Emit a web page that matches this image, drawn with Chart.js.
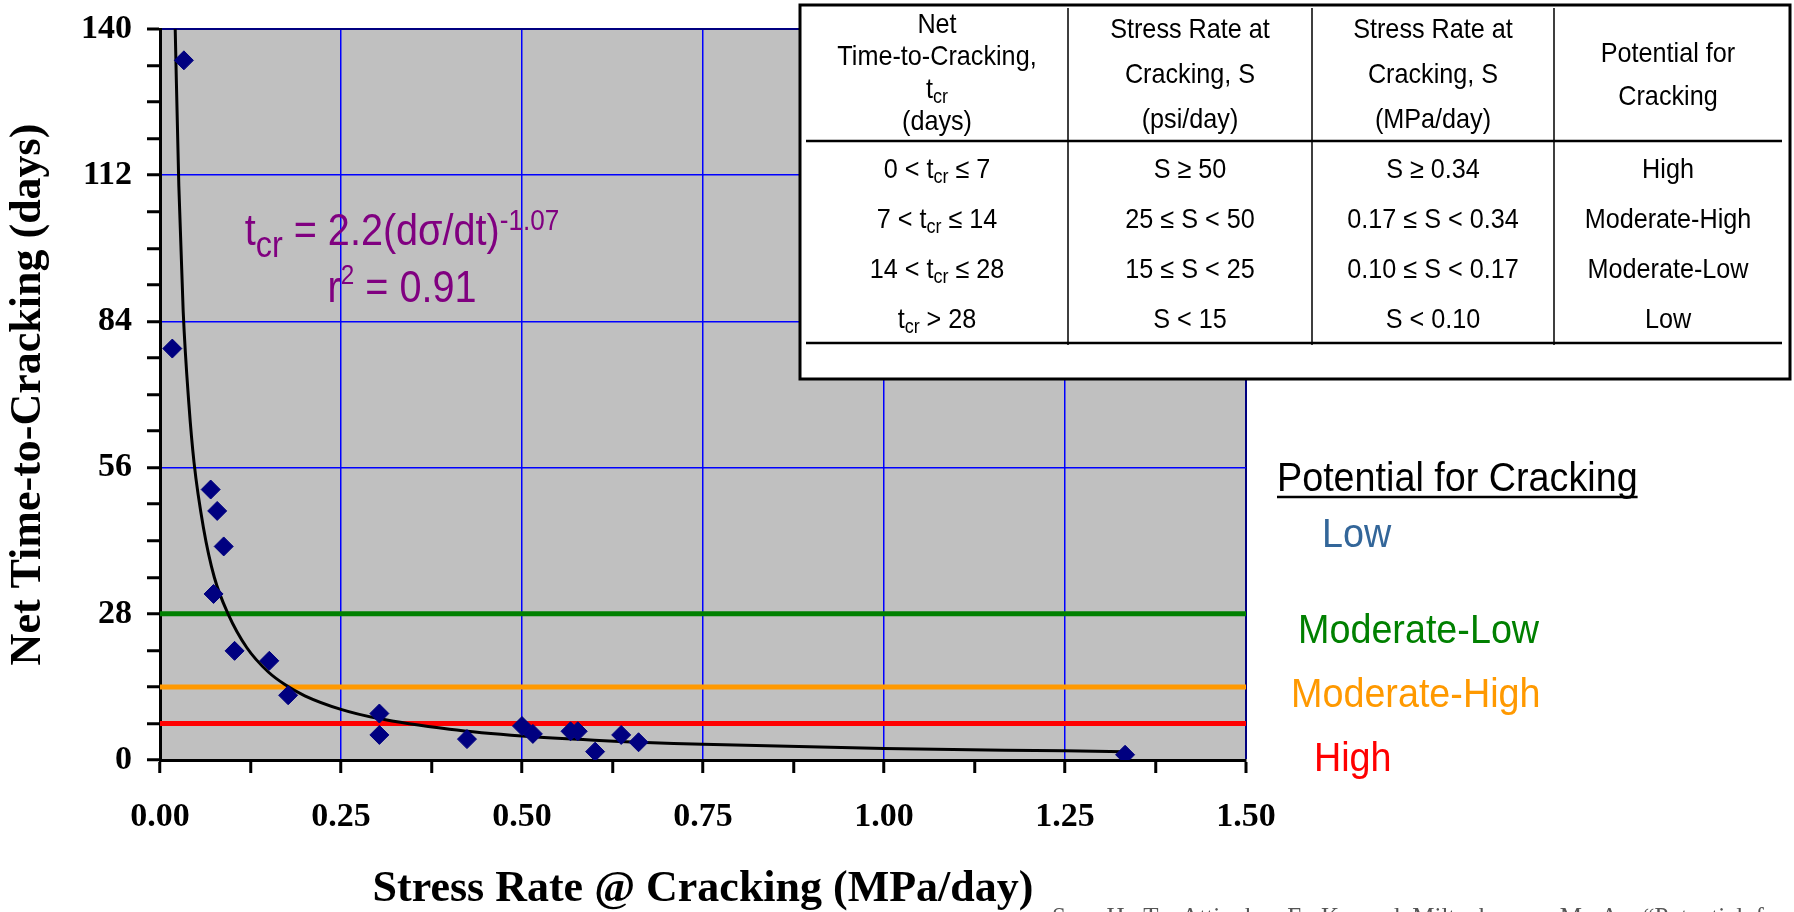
<!DOCTYPE html>
<html>
<head>
<meta charset="utf-8">
<script src="https://cdn.jsdelivr.net/npm/chart.js@4.4.0/dist/chart.umd.min.js"></script>
<style>
  html, body { margin: 0; padding: 0; background: #fff; }
  canvas { display: block; }
</style>
</head>
<body>
<canvas id="chart" width="1794" height="912"></canvas>
<script>
/* DATA */
const stressRate = [0.017, 0.033, 0.070, 0.079, 0.088, 0.074, 0.103, 0.151, 0.177, 0.303,
  0.303, 0.424, 0.500, 0.515, 0.567, 0.577, 0.601, 0.637, 0.661, 1.333];
const crackDays = [78.8, 134, 51.8, 47.7, 40.9, 31.8, 20.9, 19.0, 12.4, 8.9,
  4.8, 4.0, 6.5, 5.0, 5.5, 5.5, 1.6, 4.8, 3.4, 1.0];

// power trend line
const fitX = [0.021, 0.026, 0.032, 0.040, 0.047, 0.060, 0.075, 0.094, 0.120, 0.150, 0.173,
  0.200, 0.250, 0.300, 0.400, 0.500, 0.600, 0.750, 1.000, 1.250, 1.333];
const fitY = [140, 110, 86, 68, 57, 44.5, 35, 28, 21.5, 16.8, 14.4,
  12.3, 9.7, 8.0, 5.9, 4.6, 3.8, 3.0, 2.2, 1.75, 1.6];

const thresholdDays = [28, 14, 7];
const thresholdColors = ["#008000", "#FF9900", "#FF0000"];

const xTitle = "Stress Rate @ Cracking (MPa/day)";
const yTitle = "Net Time-to-Cracking (days)";

const legendTitle = "Potential for Cracking";
const legendLabels = ["Low", "Moderate-Low", "Moderate-High", "High"];
const legendColors = ["#336699", "#008000", "#FF9900", "#FF0000"];

const tableHead = [
  ["Net", "Time-to-Cracking,", "t_cr", "(days)"],
  ["Stress Rate at", "Cracking, S", "(psi/day)"],
  ["Stress Rate at", "Cracking, S", "(MPa/day)"],
  ["Potential for", "Cracking"]
];
const tcrRanges = ["0 < t_cr \u2264 7", "7 < t_cr \u2264 14", "14 < t_cr \u2264 28", "t_cr > 28"];
const psiRanges = ["S \u2265 50", "25 \u2264 S < 50", "15 \u2264 S < 25", "S < 15"];
const mpaRanges = ["S \u2265 0.34", "0.17 \u2264 S < 0.34", "0.10 \u2264 S < 0.17", "S < 0.10"];
const potentials = ["High", "Moderate-High", "Moderate-Low", "Low"];

const footNote = "See, H. T., Attiogbe, E. K., and Miltenberger, M. A., \u201cPotential for Cracking";

/* helpers */
const SANS = "'Liberation Sans', Arial, sans-serif";
const SERIF = "'Liberation Serif', 'Times New Roman', serif";
const serifBold = size => ({ family: SERIF, size: size, weight: "bold" });

function isMajor(v, step) {
  return Math.abs(v / step - Math.round(v / step)) < 1e-6;
}

// parts: [{t, size, dy}] drawn with horizontal squeeze sx
function richText(ctx, parts, x, y, align, color, sx) {
  ctx.save();
  ctx.fillStyle = color;
  ctx.textBaseline = "alphabetic";
  ctx.textAlign = "left";
  let total = 0;
  const widths = parts.map(p => {
    ctx.font = p.size + "px " + SANS;
    const w = ctx.measureText(p.t).width * sx;
    total += w;
    return w;
  });
  let cx = align === "center" ? x - total / 2 : (align === "right" ? x - total : x);
  parts.forEach((p, i) => {
    ctx.font = p.size + "px " + SANS;
    ctx.save();
    ctx.translate(cx, y + (p.dy || 0));
    ctx.scale(sx, 1);
    ctx.fillText(p.t, 0, 0);
    ctx.restore();
    cx += widths[i];
  });
  ctx.restore();
  return total;
}

// "t_cr" -> t with subscript cr
function cellParts(s, size) {
  const segs = s.split("_cr");
  const parts = [];
  segs.forEach((seg, i) => {
    if (seg) parts.push({ t: seg, size: size });
    if (i < segs.length - 1) parts.push({ t: "cr", size: Math.round(size * 0.72), dy: 5 });
  });
  return parts;
}

const decor = {
  id: "decor",
  beforeDraw(chart) {
    const { ctx, chartArea: a } = chart;
    ctx.save();
    ctx.fillStyle = "#fff";
    ctx.fillRect(0, 0, chart.width, chart.height);
    ctx.fillStyle = "#C0C0C0";
    ctx.fillRect(a.left, a.top, a.right - a.left, a.bottom - a.top);
    ctx.restore();
  },
  afterDraw(chart) {
    const ctx = chart.ctx;
    const sx = 0.9;

    // equation
    richText(ctx, [
      { t: "t", size: 44 },
      { t: "cr", size: 36, dy: 12 },
      { t: " = 2.2(d\u03c3/dt)", size: 44 },
      { t: "-1.07", size: 29, dy: -15 }
    ], 402, 245, "center", "#800080", sx);
    richText(ctx, [
      { t: "r", size: 44 },
      { t: "2", size: 27, dy: -18 },
      { t: " = 0.91", size: 44 }
    ], 402, 302, "center", "#800080", sx);

    // table
    const tl = 800, tt = 5, tr = 1790, tb = 379;
    const colX = [806, 1068, 1312, 1554, 1782];
    ctx.save();
    ctx.fillStyle = "#fff";
    ctx.fillRect(tl, tt, tr - tl, tb - tt);
    ctx.strokeStyle = "#000";
    ctx.lineWidth = 3;
    ctx.strokeRect(tl, tt, tr - tl, tb - tt);
    ctx.lineWidth = 2.5;
    ctx.beginPath();
    ctx.moveTo(colX[0], 141); ctx.lineTo(colX[4], 141);
    ctx.moveTo(colX[0], 343); ctx.lineTo(colX[4], 343);
    ctx.stroke();
    ctx.lineWidth = 1.5;
    ctx.beginPath();
    for (let i = 1; i < 4; i++) {
      ctx.moveTo(colX[i], 8); ctx.lineTo(colX[i], 345);
    }
    ctx.stroke();
    ctx.restore();

    const headBase = [[33, 65, 98, 130], [38, 83, 128], [38, 83, 128], [62, 105]];
    tableHead.forEach((lines, c) => {
      const cx = (colX[c] + colX[c + 1]) / 2;
      lines.forEach((ln, k) => {
        richText(ctx, cellParts(ln, 28), cx, headBase[c][k], "center", "#000", sx);
      });
    });
    const rowBase = [178, 228, 278, 328];
    const cols = [tcrRanges, psiRanges, mpaRanges, potentials];
    cols.forEach((col, c) => {
      const cx = (colX[c] + colX[c + 1]) / 2;
      col.forEach((txt, r) => {
        richText(ctx, cellParts(txt, 28), cx, rowBase[r], "center", "#000", sx);
      });
    });

    // legend for the potential lines
    const w = richText(ctx, [{ t: legendTitle, size: 41 }], 1277, 491, "left", "#000", 0.92);
    ctx.save();
    ctx.strokeStyle = "#000";
    ctx.lineWidth = 2.5;
    ctx.beginPath();
    ctx.moveTo(1277, 497); ctx.lineTo(1277 + w, 497);
    ctx.stroke();
    ctx.restore();
    const lx = [1322, 1298, 1291, 1314];
    const ly = [547, 643, 707, 771];
    legendLabels.forEach((lab, i) => {
      richText(ctx, [{ t: lab, size: 41 }], lx[i], ly[i], "left", legendColors[i], 0.92);
    });

    // clipped citation at the bottom edge
    ctx.save();
    ctx.fillStyle = "#555";
    ctx.font = "25px " + SERIF;
    ctx.wordSpacing = "6px";
    ctx.textBaseline = "alphabetic";
    ctx.fillText(footNote, 1052, 925);
    ctx.restore();
  }
};

const scatterPoints = stressRate.map((x, i) => ({ x: x, y: crackDays[i] }));
const fitPoints = fitX.map((x, i) => ({ x: x, y: fitY[i] }));
const thresholdSets = thresholdDays.map((d, i) => ({
  label: "t = " + d,
  data: [{ x: 0, y: d }, { x: 1.5, y: d }],
  showLine: true,
  borderColor: thresholdColors[i],
  borderWidth: 5,
  pointRadius: 0,
  clip: false
}));

new Chart(document.getElementById("chart"), {
  type: "scatter",
  data: {
    datasets: [{
      label: "Measured",
      data: scatterPoints,
      pointStyle: "rectRot",
      pointRadius: 9.5,
      backgroundColor: "#000080",
      borderColor: "#000080",
      borderWidth: 1
    }, {
      label: "Power fit",
      data: fitPoints,
      showLine: true,
      borderColor: "#000",
      borderWidth: 3,
      pointRadius: 0,
      cubicInterpolationMode: "monotone"
    }, ...thresholdSets]
  },
  options: {
    responsive: false,
    animation: false,
    devicePixelRatio: 1,
    layout: {
      padding: { top: 29, right: 548, left: 0, bottom: 0 }
    },
    scales: {
      x: {
        type: "linear",
        min: 0,
        max: 1.5,
        ticks: {
          stepSize: 0.125,
          autoSkip: false,
          maxRotation: 0,
          padding: 24,
          color: "#000",
          font: serifBold(34),
          callback: v => isMajor(v, 0.25) ? v.toFixed(2) : ""
        },
        grid: {
          color: c => c.tick && isMajor(c.tick.value, 0.25) ? (c.tick.value >= 1.5 ? "#000080" : "#0000FF") : "rgba(0,0,0,0)",
          lineWidth: c => c.tick && c.tick.value >= 1.5 ? 2 : 1.5,
          tickColor: "#000",
          tickWidth: 3,
          tickLength: 13
        },
        border: { color: "#000", width: 3 },
        title: {
          display: true,
          text: xTitle,
          color: "#000",
          font: { family: SERIF, size: 44, weight: "bold", lineHeight: 1 },
          padding: 0
        },
        afterFit: s => { s.height = 152; s.paddingLeft = 0; s.paddingRight = 0; }
      },
      y: {
        type: "linear",
        min: 0,
        max: 140,
        ticks: {
          stepSize: 7,
          autoSkip: false,
          padding: 15,
          color: "#000",
          font: serifBold(34),
          callback: v => isMajor(v, 28) ? v : ""
        },
        grid: {
          color: c => c.tick && isMajor(c.tick.value, 28) ? (c.tick.value >= 140 ? "#000080" : "#0000FF") : "rgba(0,0,0,0)",
          lineWidth: c => c.tick && c.tick.value >= 140 ? 2 : 1.5,
          tickColor: "#000",
          tickWidth: 3,
          tickLength: 13
        },
        border: { color: "#000", width: 3 },
        title: {
          display: true,
          text: yTitle,
          color: "#000",
          font: serifBold(44),
          padding: { top: 2, bottom: 0 }
        },
        afterFit: s => { s.width = 160; s.paddingTop = 0; s.paddingBottom = 0; }
      }
    },
    plugins: {
      legend: { display: false },
      tooltip: { enabled: false }
    }
  },
  plugins: [decor]
});
</script>
</body>
</html>
